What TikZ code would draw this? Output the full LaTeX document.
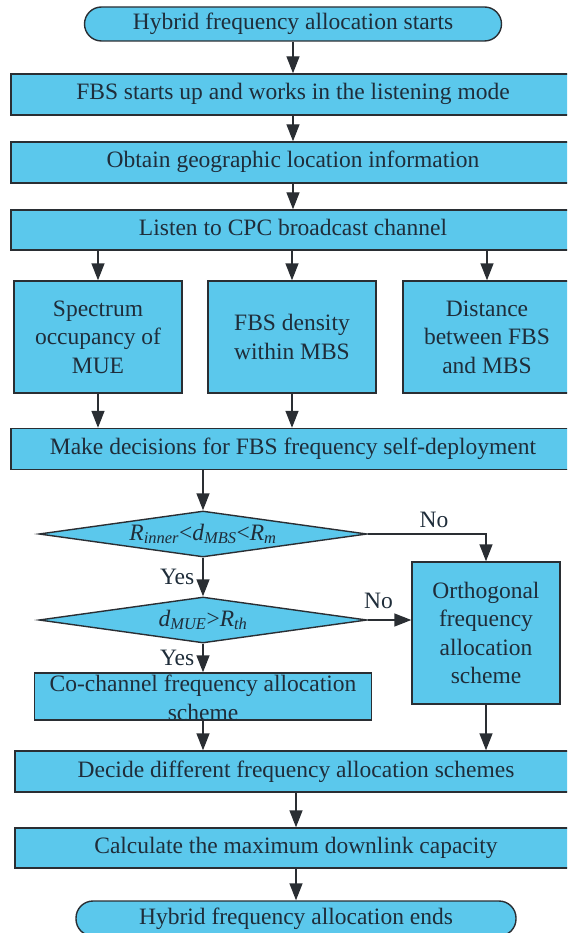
\documentclass[tikz,border=0pt]{standalone}
\usepackage{fontspec}
\setmainfont{LiberationSerif}[Extension=.ttf, UprightFont=*-Regular,
  ItalicFont=*-Italic, BoldFont=*-Bold, BoldItalicFont=*-BoldItalic]
\usetikzlibrary{shapes.geometric, arrows.meta, positioning, calc}
\definecolor{hfBlue}{HTML}{5BC8EC}
\definecolor{hfEdge}{HTML}{2A2E33}
\definecolor{hfText}{HTML}{1F2D3A}
\newcommand{\hffont}{\rmfamily\fontsize{23.5}{28.5}\selectfont}
\tikzset{
  base/.style={draw=hfEdge, fill=hfBlue, line width=1.4pt, text=hfText,
               inner sep=0pt, align=center, font=\hffont},
  wide/.style={base, minimum width=564pt, minimum height=41pt,
               text height=16pt, text depth=5pt},
  term/.style={base, rounded corners=17pt, text height=16pt, text depth=5pt},
  para/.style={base, minimum width=168pt, minimum height=112pt},
  cond/.style={base, diamond, aspect=7.1, minimum width=328pt, minimum height=46pt},
  arr/.style={draw=hfEdge, line width=1.4pt, -{Triangle[length=17pt,width=13pt]}},
  lbl/.style={font=\hffont, text=hfText, inner sep=2pt}
}
\begin{document}
\begin{tikzpicture}[x=1pt, y=-1pt]
  \useasboundingbox (0,0) rectangle (567,933);
  \clip (0,0) rectangle (567,933);
  % start
  \node[term, minimum width=417pt, minimum height=34pt] (start) at (293,24)
    {Hybrid frequency allocation starts};
  % first steps
  \node[wide] (listenmode) at (293,94.5) {FBS starts up and works in the listening mode};
  \node[wide] (geoloc) at (293,162.5) {Obtain geographic location information};
  \node[wide, minimum height=40pt] (cpc) at (293,230) {Listen to CPC broadcast channel};
  % parameters
  \node[para] (spectrum) at (98,337) {Spectrum\\occupancy of\\MUE};
  \node[para] (density) at (292,337) {FBS density\\within MBS};
  \node[para] (distance) at (487,337) {Distance\\between FBS\\and MBS};
  \node[wide] (decision) at (293,449) {Make decisions for FBS frequency self-deployment};
  % conditions
  \node[cond] (rcond) at (203,534)
    {\textit{R}\textsubscript{\textit{inner}}<\textit{d}\textsubscript{\textit{MBS}}<\textit{R}\textsubscript{\textit{m}}};
  \node[cond] (dcond) at (203,620)
    {\textit{d}\textsubscript{\textit{MUE}}>\textit{R}\textsubscript{\textit{th}}};
  % schemes
  \node[base, minimum width=337pt, minimum height=47pt] (cochannel) at (203,696.5)
    {\smash{\raisebox{-10pt}{\begin{tabular}{@{}c@{}}Co-channel frequency allocation\\scheme\end{tabular}}}};
  \node[base, minimum width=148pt, minimum height=142pt] (orthogonal) at (486,633)
    {Orthogonal\\frequency\\allocation\\scheme};
  \node[wide, minimum width=562pt] (schemes) at (296,771.5) {Decide different frequency allocation schemes};
  \node[wide, minimum width=562pt, minimum height=40pt] (capacity) at (296,848)
    {Calculate the maximum downlink capacity};
  % end
  \node[term, minimum width=440pt, minimum height=35pt] (finish) at (296,918.5)
    {Hybrid frequency allocation ends};
  % arrows
  \draw[arr] (start) -- (listenmode);
  \draw[arr] (listenmode) -- (geoloc);
  \draw[arr] (geoloc) -- (cpc);
  \foreach \n in {spectrum,density,distance}
    \draw[arr] (\n.north |- cpc.south) -- (\n);
  \draw[arr] (spectrum) -- (spectrum.south |- decision.north);
  \draw[arr] (density) -- (density.south |- decision.north);
  \draw[arr] (rcond.north |- decision.south) -- (rcond);
  \draw[arr] (rcond) -- node[lbl, left=6pt] {Yes} (dcond);
  \draw[arr] (rcond.east) -| node[lbl, above=4pt, pos=0.28] {No} (orthogonal);
  \draw[arr] (dcond.east) -- node[lbl, above=9pt, pos=0.25] {No} (dcond.east -| orthogonal.west);
  \draw[arr] (dcond) -- node[lbl, left=6pt] {Yes} (cochannel);
  \draw[arr] (cochannel) -- (cochannel.south |- schemes.north);
  \draw[arr] (orthogonal) -- (orthogonal.south |- schemes.north);
  \draw[arr] (schemes) -- (capacity);
  \draw[arr] (capacity) -- (finish);
\end{tikzpicture}
\end{document}
